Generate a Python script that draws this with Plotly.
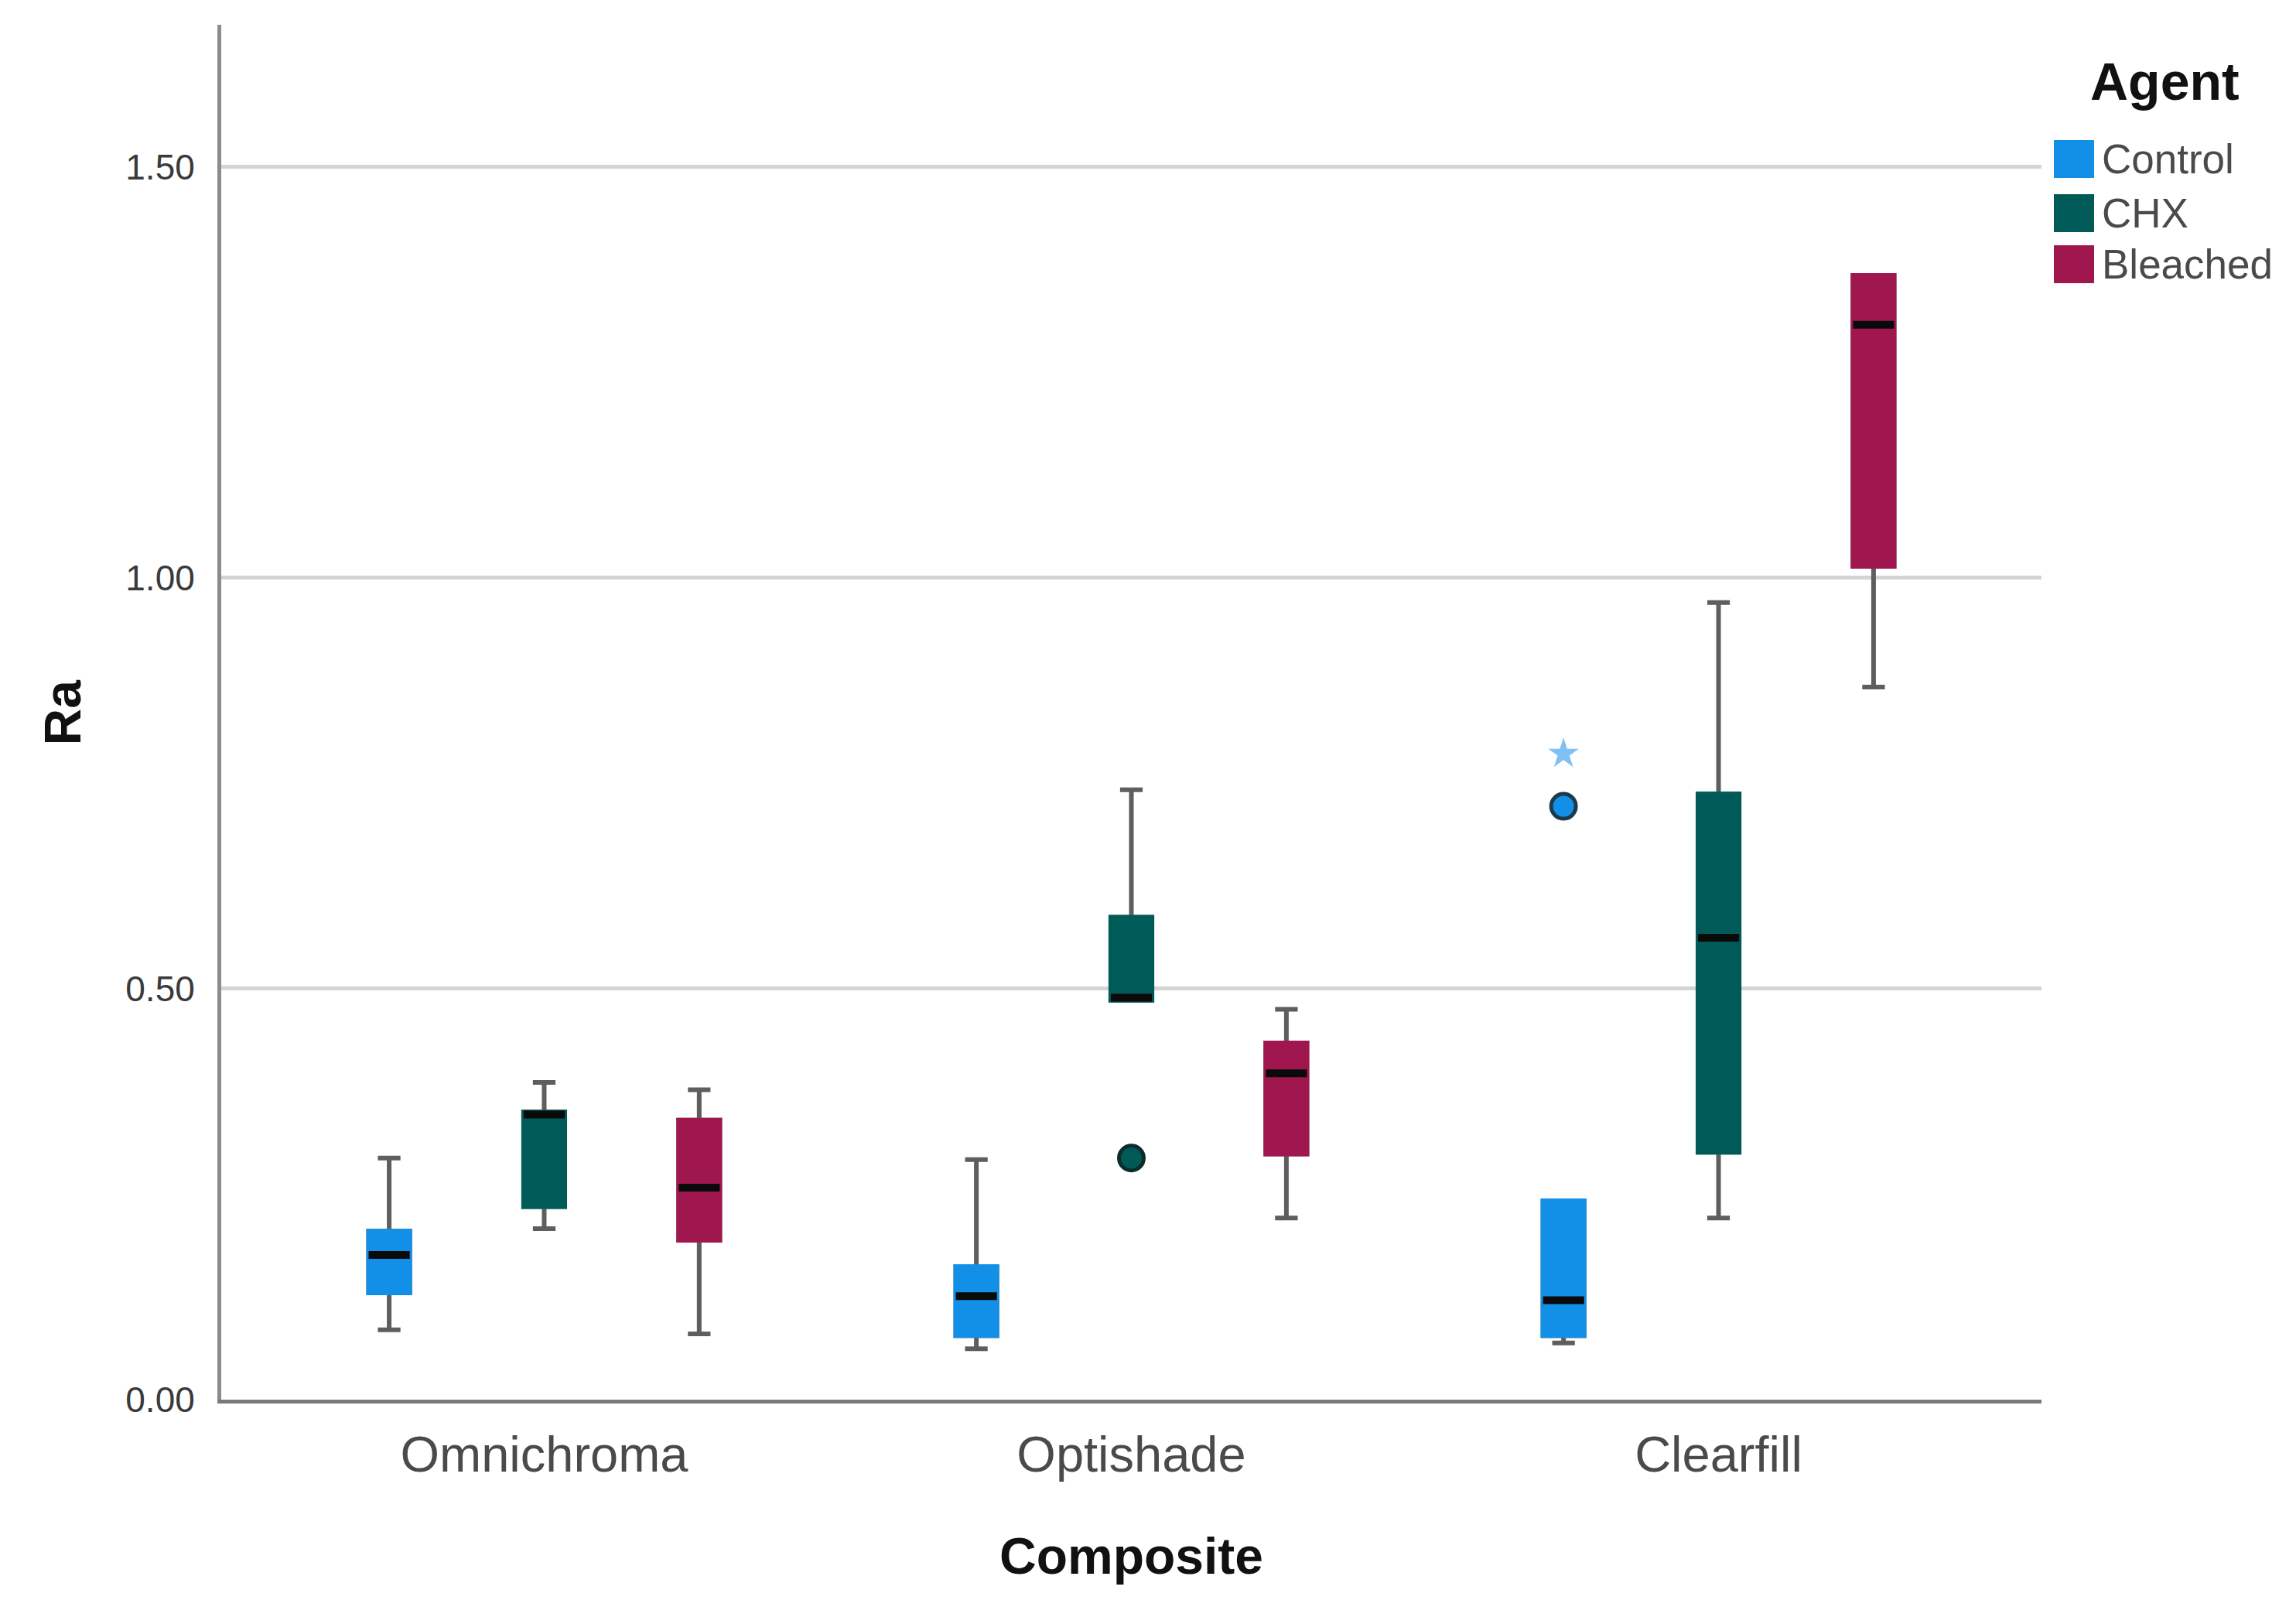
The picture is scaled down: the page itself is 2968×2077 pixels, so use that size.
import plotly.graph_objects as go

# Figure geometry (pixels)
W, H = 2968, 2077
ML, MR, MT, MB = 278, 337, 24, 276

composites = ["Omnichroma", "Optishade", "Clearfill"]
agents = ["Control", "CHX", "Bleached"]
colors = {"Control": "#128FE6", "CHX": "#005B58", "Bleached": "#A0174F"}

# box statistics per agent, one value per composite
lower = {"Control": [0.085, 0.062, 0.069],
         "CHX": [0.208, 0.486, 0.221],
         "Bleached": [0.080, 0.221, 0.867]}
q1 = {"Control": [0.130, 0.078, 0.078],
      "CHX": [0.235, 0.486, 0.301],
      "Bleached": [0.194, 0.299, 1.014]}
median = {"Control": [0.176, 0.126, 0.121],
          "CHX": [0.347, 0.489, 0.562],
          "Bleached": [0.258, 0.397, 1.308]}
q3 = {"Control": [0.205, 0.162, 0.242],
      "CHX": [0.350, 0.587, 0.737],
      "Bleached": [0.340, 0.434, 1.368]}
upper = {"Control": [0.294, 0.292, 0.242],
         "CHX": [0.386, 0.742, 0.970],
         "Bleached": [0.377, 0.475, 1.368]}

# outliers: (composite, agent, value, kind)
out_comp = ["Optishade", "Clearfill", "Clearfill"]
out_agent = ["CHX", "Control", "Control"]
out_val = [0.294, 0.722, 0.786]
out_kind = ["outlier", "outlier", "extreme"]

offsets = {"Control": -0.264, "CHX": 0.0, "Bleached": 0.264}
BOX_W = 0.07

fig = go.Figure()

for a in agents:
    xs = [i + 1 + offsets[a] for i in range(len(composites))]
    # whiskers layer
    fig.add_trace(go.Box(
        x=xs, q1=q1[a], median=median[a], q3=q3[a],
        lowerfence=lower[a], upperfence=upper[a],
        width=BOX_W, whiskerwidth=0.55,
        fillcolor="rgba(0,0,0,0)", line=dict(color="#5e5e5e", width=6),
        showlegend=False, hoverinfo="skip"))
    # filled box layer
    fig.add_trace(go.Box(
        x=xs, q1=q1[a], median=median[a], q3=q3[a],
        lowerfence=q1[a], upperfence=q3[a],
        width=BOX_W, whiskerwidth=0,
        fillcolor=colors[a], line=dict(color=colors[a], width=6),
        showlegend=False, name=a))
    # median line
    fig.add_trace(go.Box(
        x=xs, q1=median[a], median=median[a], q3=median[a],
        lowerfence=median[a], upperfence=median[a],
        width=BOX_W, whiskerwidth=0,
        fillcolor="rgba(0,0,0,0)", line=dict(color="#0a0a0a", width=10),
        showlegend=False, hoverinfo="skip"))

for c, a, v, k in zip(out_comp, out_agent, out_val, out_kind):
    x = composites.index(c) + 1 + offsets[a]
    if k == "outlier":
        marker = dict(symbol="circle", size=32, color=colors[a],
                      line=dict(color="#1d3a4a" if a == "Control" else "#0b2e2d", width=5))
    else:
        marker = dict(symbol="star", size=30, color="rgba(60,160,240,0.65)",
                      line=dict(width=0))
    fig.add_trace(go.Scatter(x=[x], y=[v], mode="markers", marker=marker,
                             showlegend=False))

pw = W - ML - MR
ph = H - MT - MB


def px_x(p):
    return (p - ML) / pw


def px_y(p):
    return (H - MB - p) / ph


# manual legend
shapes = []
annotations = []
legend_rows = [(173, 222), (243, 292), (309, 358)]
for a, (y0, y1) in zip(agents, legend_rows):
    shapes.append(dict(type="rect", xref="paper", yref="paper",
                       x0=px_x(2647), x1=px_x(2699), y0=px_y(y1), y1=px_y(y0),
                       fillcolor=colors[a], line=dict(width=0)))
    annotations.append(dict(text=a, xref="paper", yref="paper",
                            x=px_x(2707), y=px_y((y0 + y1) / 2),
                            xanchor="left", yanchor="middle", showarrow=False,
                            font=dict(size=53, color="#4a4a4a")))
annotations.append(dict(text="<b>Agent</b>", xref="paper", yref="paper",
                        x=px_x(2790), y=px_y(97), xanchor="center", yanchor="middle",
                        showarrow=False, font=dict(size=68, color="#111")))

# axis titles
annotations.append(dict(text="<b>Composite</b>", xref="paper", yref="paper",
                        x=0.5, y=px_y(2003), xanchor="center", yanchor="middle",
                        showarrow=False, font=dict(size=66, color="#111")))
annotations.append(dict(text="<b>Ra</b>", xref="paper", yref="paper",
                        x=px_x(72), y=0.5, xanchor="center", yanchor="middle",
                        textangle=-90, showarrow=False,
                        font=dict(size=66, color="#111")))

fig.update_layout(
    width=W, height=H,
    margin=dict(l=ML, r=MR, t=MT, b=MB),
    paper_bgcolor="white", plot_bgcolor="white",
    font=dict(family="Liberation Sans, Arial", color="#333"),
    boxmode="overlay",
    shapes=shapes, annotations=annotations,
)
fig.update_xaxes(range=[0.45, 3.55], tickvals=[1, 2, 3], ticktext=composites,
                 showgrid=False, zeroline=False, showline=True,
                 linecolor="#7a7a7a", linewidth=5, ticks="",
                 tickfont=dict(size=65, color="#4a4a4a"), ticklabelstandoff=10)
fig.update_yaxes(range=[0, 1.673], tickvals=[0, 0.5, 1.0, 1.5],
                 ticktext=["0.00", "0.50", "1.00", "1.50"],
                 showgrid=True, gridcolor="#d4d4d4", gridwidth=5,
                 zeroline=False, showline=True, linecolor="#8c8c8c", linewidth=5,
                 ticks="", tickfont=dict(size=46, color="#3a3a3a"),
                 ticklabelstandoff=20)

fig.write_html("out.html")
